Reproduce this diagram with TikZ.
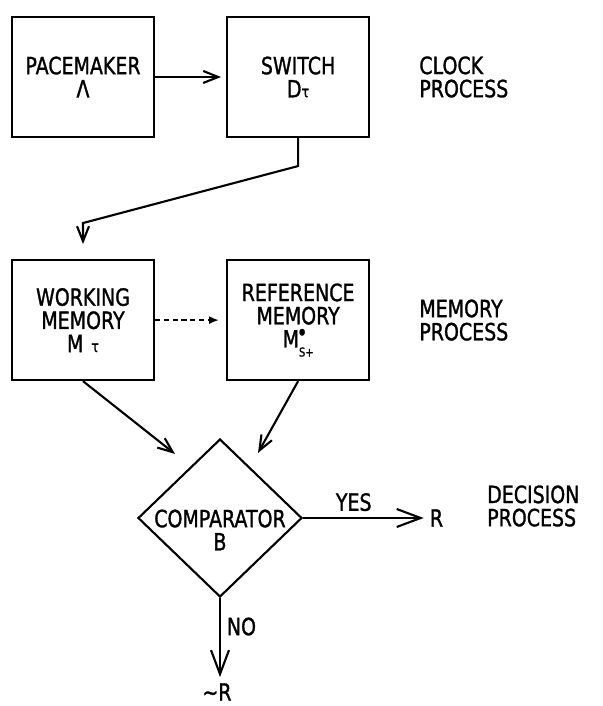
\documentclass[tikz,border=0pt]{standalone}
\usepackage{fontspec}
\setmainfont{DejaVu Sans}[FakeStretch=0.8, FakeBold=1.2]
\usepackage{tikz}
\usetikzlibrary{positioning, shapes.geometric, arrows.meta}

\tikzset{
  box/.style={draw, line width=1.2pt, minimum width=2.84cm, minimum height=2.4cm, align=center, inner sep=0pt},
  decision/.style={draw, diamond, line width=1.2pt, minimum width=3.28cm, minimum height=3.16cm, inner sep=0pt},
  arr/.style={-{Straight Barb[length=0.3cm,width=0.24cm]}, line width=1.2pt},
  bigarr/.style={-{Straight Barb[length=0.48cm,width=0.36cm]}, line width=1.2pt},
  dasharr/.style={-{Latex[length=0.2cm,width=0.16cm]}, line width=1.2pt, dash pattern=on 3pt off 2pt},
  side/.style={align=left, anchor=west}
}

\begin{document}
\begin{tikzpicture}[font=\fontsize{13.5}{13.2}\selectfont]
        \useasboundingbox (0,0) rectangle (12.04,-14.12);
        \node[box] (pace) at (1.66,-1.54) {PACEMAKER\\Λ};
        \node[box, right=1.42cm of pace] (sw) {SWITCH\\D{\small τ}};
        \node[side, right=0.86cm of sw] (clock) {CLOCK\\PROCESS};
        \node[box, below=2.42cm of pace] (wm) {WORKING\\MEMORY\\M\,\,{\small τ}};
        \node[box, right=1.42cm of wm] (rm) {REFERENCE\\MEMORY\\M\rlap{\raisebox{1.0ex}{\tiny ●}}\raisebox{-0.7ex}{\scriptsize S+}};
        \node[side, right=0.86cm of rm] (memp) {MEMORY\\PROCESS};
        \node[decision] (comp) at (4.4,-10.36) {};
        \node[align=center, inner sep=0pt] (comptext) at ([yshift=-0.24cm]comp.center) {COMPARATOR\\B};
        \node (yesR) at (8.73,-10.36) {R};
        \node[side] (decp) at (9.62,-10.12) {DECISION\\PROCESS};
        \node (noR) at (4.34,-13.84) {∼R};
%
        \path[arr]
        (pace) edge [shorten >=0.1cm] (sw)
        (wm.south) edge ([shift={(-0.9,-0.32)}]comp.north)
        (rm.south) edge ([shift={(0.76,-0.3)}]comp.north);
        \draw[dasharr, shorten >=0.14cm] (wm) -- (rm);
        \draw[arr, shorten >=0.3cm] (sw.south) -- ++(0,-0.56) -- ([yshift=0.72cm]wm.north) -- (wm.north);
%
        \path[bigarr]
        (comp.east) edge node[pos=0.42, above] {YES} (yesR.west)
        (comp.south) edge node[pos=0.36, right] {NO} (comp.south |- noR.north);
\end{tikzpicture}
\end{document}
